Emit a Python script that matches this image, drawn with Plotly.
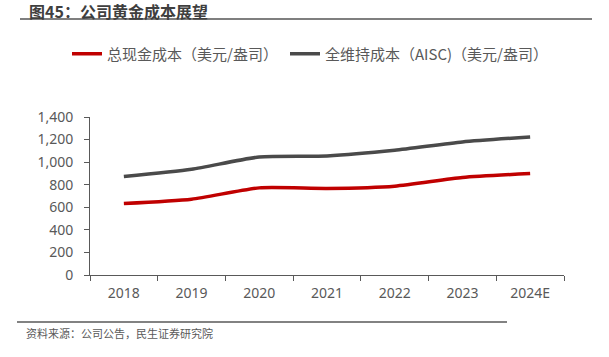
import plotly.graph_objects as go

years = ["2018", "2019", "2020", "2021", "2022", "2023", "2024E"]
total_cash_cost = [634, 672, 772, 767, 787, 864, 899]
aisc = [873, 937, 1046, 1055, 1105, 1179, 1223]
series_names = ["总现金成本（美元/盎司）", "全维持成本（AISC)（美元/盎司）"]
title_text = "图45：公司黄金成本展望"
source_text = "资料来源：公司公告，民生证券研究院"
y_ticks = [0, 200, 400, 600, 800, 1000, 1200, 1400]

W, H = 609, 357
CJK = "Noto Sans CJK SC"
NUM = "Noto Sans"

fig = go.Figure()
fig.add_trace(go.Scatter(
    x=years, y=total_cash_cost, name=series_names[0], mode="lines",
    line=dict(color="#C00000", width=3.5, shape="spline", smoothing=0.6),
    legend="legend"))
fig.add_trace(go.Scatter(
    x=years, y=aisc, name=series_names[1], mode="lines",
    line=dict(color="#4A4A4A", width=3.5, shape="spline", smoothing=0.6),
    legend="legend2"))

l, r, t, b = 90, 45, 116.7, 82
PW, PH = W - l - r, H - t - b


def px(x):
    return (x - l) / PW


def py(y):
    return (H - b - y) / PH


fig.update_layout(
    width=W, height=H,
    margin=dict(l=l, r=r, t=t, b=b, pad=0, autoexpand=False),
    paper_bgcolor="white", plot_bgcolor="white",
    font=dict(family=NUM, size=14, color="#595959"),
    showlegend=True,
    legend=dict(orientation="h", x=px(67), xanchor="left",
                y=py(53.5), yanchor="middle",
                font=dict(family=CJK, size=15, color="#595959"),
                bgcolor="rgba(0,0,0,0)", itemwidth=30),
    legend2=dict(orientation="h", x=px(285), xanchor="left",
                 y=py(53.5), yanchor="middle",
                 font=dict(family=CJK, size=15, color="#595959"),
                 bgcolor="rgba(0,0,0,0)", itemwidth=30),
    xaxis=dict(type="category", range=[-0.5, 6.5], showgrid=False, showline=True,
               linecolor="#595959", linewidth=1, ticks="outside",
               tickson="boundaries", ticklen=5, tickcolor="#595959",
               ticklabelstandoff=5,
               tickfont=dict(family=NUM, size=14, color="#595959"),
               zeroline=False),
    yaxis=dict(range=[0, 1400], tickvals=y_ticks, tickformat=",d",
               showgrid=False, showline=True, linecolor="#595959",
               linewidth=1, ticks="outside", ticklen=5, tickcolor="#595959",
               ticklabelstandoff=8,
               tickfont=dict(family=NUM, size=14, color="#595959"),
               zeroline=False),
    shapes=[
        dict(type="line", xref="paper", yref="paper",
             x0=px(20), x1=px(592), y0=py(18.5), y1=py(18.5),
             line=dict(color="#7F7F7F", width=2)),
        dict(type="line", xref="paper", yref="paper",
             x0=px(17), x1=px(507), y0=py(322), y1=py(322),
             line=dict(color="#595959", width=1.5)),
    ],
    annotations=[
        dict(text="<b>" + title_text + "</b>", xref="paper", yref="paper",
             x=px(27), xanchor="left", y=py(10), yanchor="middle",
             showarrow=False,
             font=dict(family=CJK, size=16, color="#3F3F3F")),
        dict(text=source_text, xref="paper", yref="paper",
             x=px(24), xanchor="left", y=py(333), yanchor="middle",
             showarrow=False,
             font=dict(family=CJK, size=11, color="#595959")),
    ],
)

fig.write_html("out.html", config={"displayModeBar": False},
               post_script="document.body.style.margin='0';document.body.style.padding='0';")
